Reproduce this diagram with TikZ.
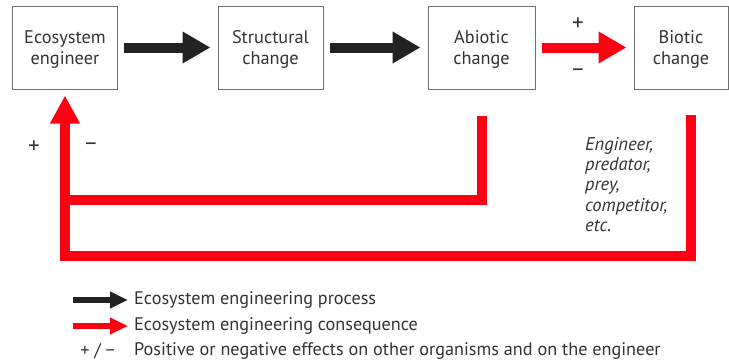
\documentclass[tikz,border=0pt]{standalone}
\usepackage{fontspec}
\setmainfont{PT Sans}
\usetikzlibrary{arrows.meta}
\usetikzlibrary{positioning}
\definecolor{conseqred}{HTML}{FF0013}
\definecolor{procblack}{HTML}{222222}
\definecolor{inkgray}{HTML}{333333}
\definecolor{boxgray}{HTML}{707070}

\begin{document}
\begin{tikzpicture}[x=1pt,y=-1pt,
    box/.style={draw=boxgray,line width=1pt,minimum width=105pt,minimum height=83pt,
        align=center,text depth=0pt,text=inkgray,font=\fontsize{18.3}{20.5}\selectfont},
    process/.style={procblack,line width=10pt,-{Triangle[length=28pt,width=30pt]},
        shorten <=6pt,shorten >=7pt},
    conseq/.style={conseqred,line width=10pt},
    keyarrow/.style={line width=6pt,-{Triangle[length=18pt,width=16pt]}},
    sign/.style={text=inkgray,inner sep=0pt,font=\fontsize{23}{23}\selectfont},
    keytext/.style={anchor=west,text=inkgray,inner sep=0pt,font=\fontsize{18.2}{20}\selectfont}]
\useasboundingbox (0,0) rectangle (729,364);

% boxes
\node[box] (eng) at (65,47.5) {Ecosystem\\engineer};
\node[box] (struct) at (270.5,47.5) {Structural\\change};
\node[box,minimum width=107pt] (abio) at (481.5,47.5) {Abiotic\\change};
\node[box,minimum width=94pt] (bio) at (681,47.5) {Biotic\\change};

% process chain
\draw[process] (eng) -- (struct);
\draw[process] (struct) -- (abio);
\draw[process,conseqred] (abio) -- (bio);
\node[sign] (plusab) at (578,24) {+};
\node[sign] (minusab) at (578,73) {−};

% feedback to the engineer
\coordinate (abiofoot) at (482,116);
\coordinate (biofoot) at (691,115);
\coordinate (midturn) at (65,200);
\coordinate (lowturn) at (65,256);
\draw[conseq] (abiofoot) |- (midturn);
\draw[conseq,-{Triangle[length=28pt,width=28pt]},shorten >=6pt]
    (biofoot) |- (lowturn) -- (eng.south);
\node[sign] (plusloop) at (34,147) {+};
\node[sign] (minusloop) at (91,147) {−};

\node[anchor=north west,align=left,inner sep=0pt,text=inkgray,
    font=\fontsize{18.5}{20.3}\selectfont\itshape] (roles) at (585,137)
    {Engineer,\\predator,\\prey,\\competitor,\\etc.};

% key
\node[keytext] (keyproc) at (134,300) {Ecosystem engineering process};
\node[keytext] (keyconseq) at (134,326) {Ecosystem engineering consequence};
\node[keytext] (keysign) at (134,351) {Positive or negative effects on other organisms and on the engineer};
\node[keytext,anchor=east,left=19pt of keysign] (keypm) {+ / −};
\draw[keyarrow,procblack] ([xshift=-61pt]keyproc.west) -- ([xshift=-6pt]keyproc.west);
\draw[keyarrow,conseqred] ([xshift=-61pt]keyconseq.west) -- ([xshift=-6pt]keyconseq.west);
\end{tikzpicture}
\end{document}
